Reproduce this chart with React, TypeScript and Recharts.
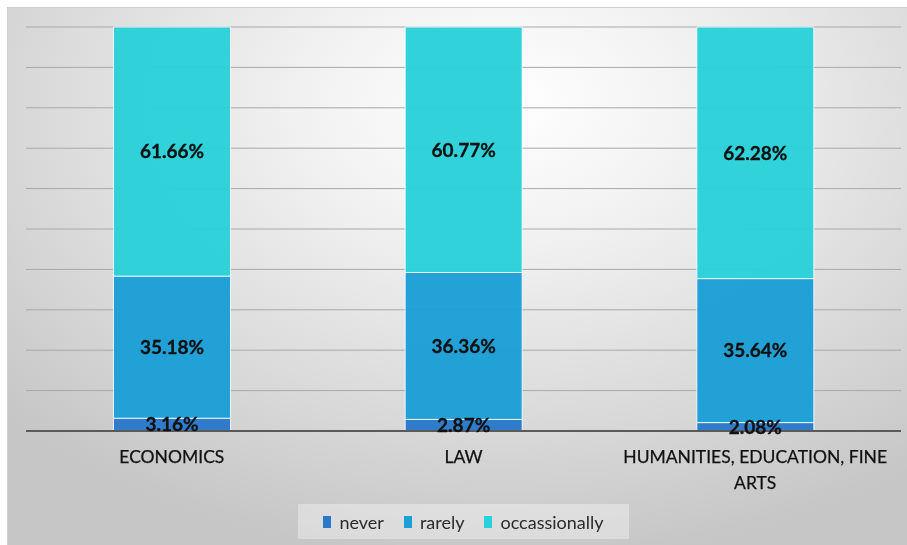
import { BarChart, Bar, XAxis, YAxis, CartesianGrid, LabelList, Text } from 'recharts';

const CATEGORIES = ['ECONOMICS', 'LAW', 'HUMANITIES, EDUCATION, FINE ARTS'];
const NEVER = [3.16, 2.87, 2.08];
const RARELY = [35.18, 36.36, 35.64];
const OCCASIONALLY = [61.66, 60.77, 62.28];
const GRID_TICKS = [0, 10, 20, 30, 40, 50, 60, 70, 80, 90, 100];

const SERIES = [
  { key: 'never', name: 'never', color: '#2b78ca' },
  { key: 'rarely', name: 'rarely', color: '#1c9fd7' },
  { key: 'occasionally', name: 'occassionally', color: '#2bd1da' },
];

const data = CATEGORIES.map((name, i) => ({
  name,
  never: NEVER[i],
  rarely: RARELY[i],
  occasionally: OCCASIONALLY[i],
}));

const FONT = 'Lato, "Open Sans", sans-serif';

function CategoryTick({ x, y, payload }: any) {
  return (
    <Text
      x={x}
      y={y + 20}
      width={280}
      lineHeight={26}
      textAnchor="middle"
      verticalAnchor="start"
      fontFamily={FONT}
      fontSize={17.5}
      fill="#111"
      stroke="#111"
      strokeWidth={0.25}
    >
      {payload.value}
    </Text>
  );
}

function LegendBox() {
  return (
    <div
      style={{
        position: 'absolute',
        left: 290,
        top: 496,
        width: 331,
        height: 35,
        background: 'rgba(255,255,255,0.35)',
        display: 'flex',
        alignItems: 'center',
        justifyContent: 'center',
        gap: 20,
        fontFamily: FONT,
        fontSize: 18,
        color: '#2a2a2a',
      }}
    >
      {SERIES.map((s) => (
        <div key={s.key} style={{ display: 'flex', alignItems: 'center', gap: 8 }}>
          <span style={{ display: 'inline-block', width: 8, height: 12, background: s.color }} />
          <span>{s.name}</span>
        </div>
      ))}
    </div>
  );
}

export default function App() {
  return (
    <div
      style={{
        position: 'fixed',
        left: 7,
        top: 7,
        width: 900,
        height: 538,
        borderTop: '1px solid #cfcfcf',
        borderLeft: '1px solid #cfcfcf',
        boxSizing: 'border-box',
        background:
          'radial-gradient(ellipse 75% 85% at 55% 18%, #ffffff 0%, #f1f1f1 30%, #d9d9d9 70%, #c6c6c6 100%)',
      }}
    >
      <BarChart
        width={900}
        height={538}
        data={data}
        margin={{ top: 19, right: 7, bottom: 75, left: 18 }}
        barCategoryGap="30%"
      >
        <CartesianGrid vertical={false} stroke="#a8a8a8" strokeWidth={1} />
        <YAxis hide domain={[0, 100]} ticks={GRID_TICKS} />
        <XAxis
          dataKey="name"
          height={40}
          tickLine={false}
          tickSize={0}
          tickMargin={0}
          axisLine={{ stroke: '#5a5a5a', strokeWidth: 2 }}
          tick={<CategoryTick />}
          interval={0}
        />
        {SERIES.map((s) => (
          <Bar
            key={s.key}
            dataKey={s.key}
            name={s.name}
            stackId="a"
            fill={s.color}
            fillOpacity={0.97}
            stroke="#ffffff"
            strokeOpacity={0.85}
            strokeWidth={1}
            isAnimationActive={false}
          >
            <LabelList
              dataKey={s.key}
              position="center"
              formatter={(v: any) => `${Number(v).toFixed(2)}%`}
              fill="#111"
              stroke="#111"
              strokeWidth={0.3}
              fontFamily={FONT}
              fontWeight="bold"
              fontSize={19}
            />
          </Bar>
        ))}
      </BarChart>
      <LegendBox />
    </div>
  );
}
